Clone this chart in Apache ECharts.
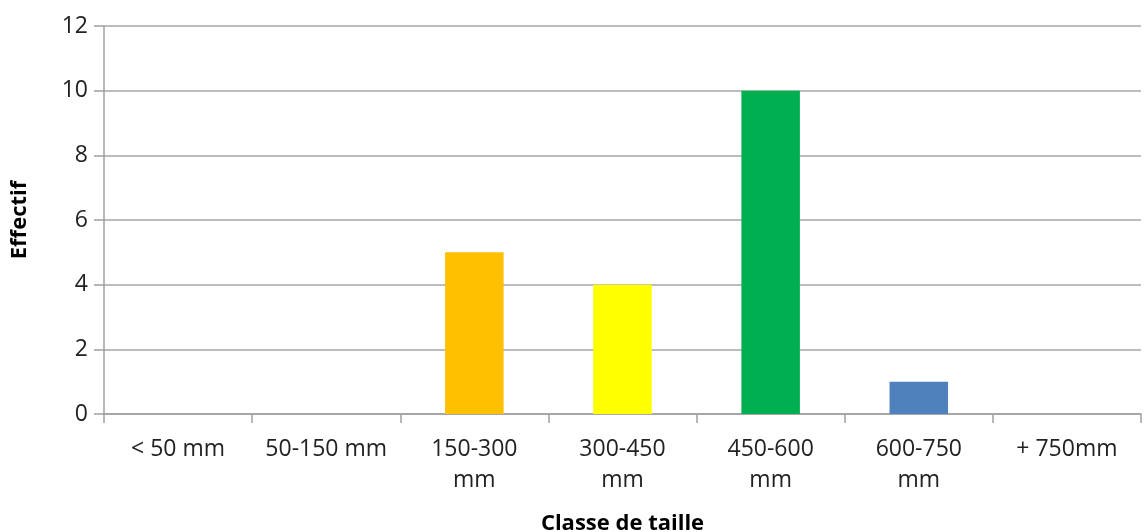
<!DOCTYPE html>
<html>
<head>
<meta charset="utf-8">
<script src="https://cdn.jsdelivr.net/npm/echarts@6/dist/echarts.min.js"></script>
<style>html,body{margin:0;padding:0;background:#fff;}#c{width:1145px;height:532px;}</style>
</head>
<body>
<div id="c"></div>
<script>
const categories = ['< 50 mm', '50-150 mm', '150-300\nmm', '300-450\nmm', '450-600\nmm', '600-750\nmm', '+ 750mm'];
const values = [0, 0, 5, 4, 10, 1, 0];
const barColors = ['#FFC000', '#FFC000', '#FFC000', '#FFFF00', '#00B050', '#4F81BD', '#4F81BD'];
const yTicks = { min: 0, max: 12, interval: 2 };

const chart = echarts.init(document.getElementById('c'), null, { renderer: 'canvas' });
const font = '"Open Sans", sans-serif';
chart.setOption({
  animation: false,
  backgroundColor: '#fff',
  grid: { left: 104, right: 4, top: 26, bottom: 118, outerBoundsMode: 'none', containLabel: false },
  xAxis: {
    type: 'category',
    data: categories,
    name: 'Classe de taille',
    nameLocation: 'middle',
    nameGap: 99,
    nameTextStyle: { fontFamily: font, fontWeight: 'bold', fontSize: 22, color: '#000' },
    axisLine: { lineStyle: { color: '#a0a0a0', width: 1.5 } },
    axisTick: { show: true, length: 9, lineStyle: { color: '#a0a0a0', width: 1.5 } },
    axisLabel: { fontFamily: font, fontSize: 23, color: '#222', margin: 20, lineHeight: 31, interval: 0 }
  },
  yAxis: {
    type: 'value',
    min: yTicks.min, max: yTicks.max, interval: yTicks.interval,
    name: 'Effectif',
    nameLocation: 'middle',
    nameGap: 73,
    nameTextStyle: { fontFamily: font, fontWeight: 'bold', fontSize: 22, color: '#000' },
    axisLine: { show: true, lineStyle: { color: '#a0a0a0', width: 1.5 } },
    axisTick: { show: true, length: 10, lineStyle: { color: '#a0a0a0', width: 1.5 } },
    splitLine: { lineStyle: { color: '#a6a6a6', width: 1.5 } },
    axisLabel: { fontFamily: font, fontSize: 23, color: '#222', margin: 16 }
  },
  series: [{
    type: 'bar',
    data: values.map((v, i) => ({ value: v, itemStyle: { color: barColors[i] } })),
    barWidth: '39.5%'
  }]
});
</script>
</body>
</html>
